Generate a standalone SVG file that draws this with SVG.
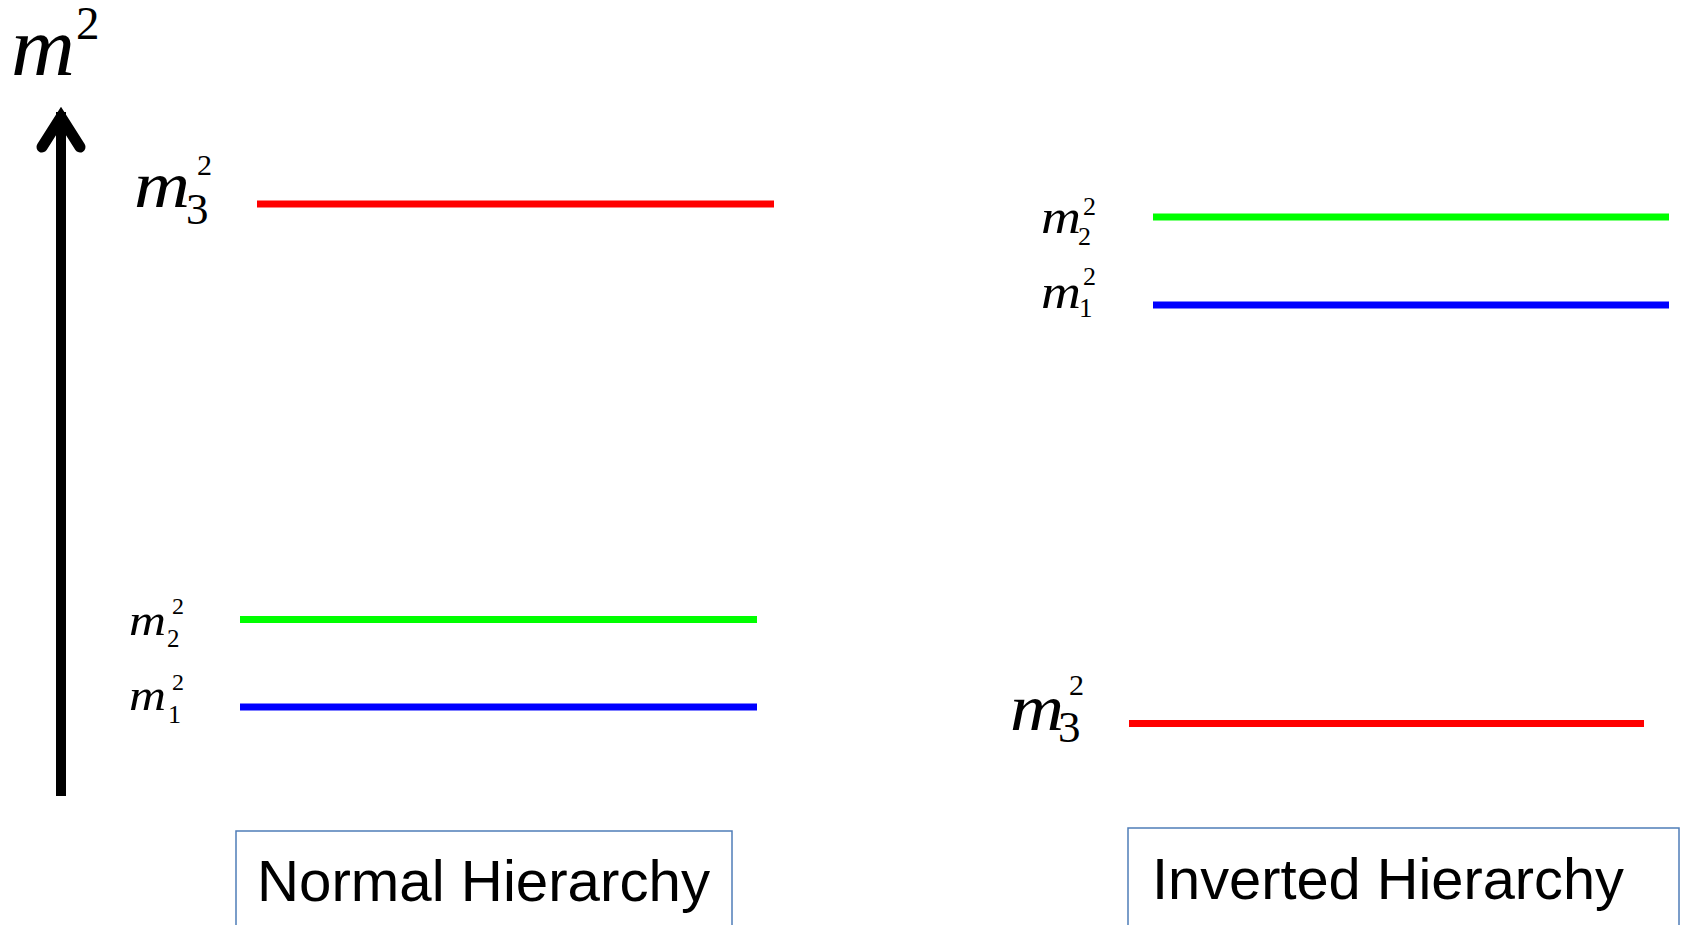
<svg xmlns="http://www.w3.org/2000/svg" width="1681" height="925" viewBox="0 0 1681 925">
<style>
.bg{fill:#ffffff}
.lvl{stroke-width:7;fill:none}
.red{stroke:#ff0000}
.green{stroke:#00ff00}
.blue{stroke:#0000ff}
.m{font-family:"Liberation Serif","Times New Roman",serif;font-style:italic;fill:#000}
.d{font-family:"Liberation Serif","Times New Roman",serif;fill:#000}
.box{fill:#ffffff;stroke:#4f7db8;stroke-width:1.5}
.cap{font-family:"Liberation Sans",Arial,sans-serif;font-size:58px;fill:#000}
</style>
<rect class="bg" x="0" y="0" width="1681" height="925"/>
<g id="connectors">
  <g id="axis">
    <line x1="61" y1="796" x2="61" y2="112" stroke="#000" stroke-width="10"/>
    <polyline points="42,147 61,117 80,147" fill="none" stroke="#000" stroke-width="11" stroke-linecap="round" stroke-linejoin="miter"/>
  </g>
</g>
<g id="axis-label">
  <text class="m" x="11" y="75" font-size="84" textLength="64" lengthAdjust="spacingAndGlyphs">m</text>
  <text class="d" x="76" y="39" font-size="47">2</text>
</g>
<g id="normal-m3">
  <line class="lvl red" x1="257" y1="204" x2="774" y2="204"/>
  <text class="m" x="134" y="207" font-size="66" textLength="56" lengthAdjust="spacingAndGlyphs">m</text>
  <text class="d" x="197" y="175" font-size="30">2</text>
  <text class="d" x="186" y="224" font-size="45">3</text>
</g>
<g id="normal-m2">
  <line class="lvl green" x1="240" y1="619.5" x2="757" y2="619.5"/>
  <text class="m" x="129" y="635" font-size="45" textLength="37" lengthAdjust="spacingAndGlyphs">m</text>
  <text class="d" x="172" y="614" font-size="24">2</text>
  <text class="d" x="167" y="647" font-size="25">2</text>
</g>
<g id="normal-m1">
  <line class="lvl blue" x1="240" y1="707" x2="757" y2="707"/>
  <text class="m" x="129" y="710" font-size="45" textLength="37" lengthAdjust="spacingAndGlyphs">m</text>
  <text class="d" x="172" y="690" font-size="24">2</text>
  <text class="d" x="168" y="723" font-size="26">1</text>
</g>
<g id="inverted-m2">
  <line class="lvl green" x1="1153" y1="217" x2="1669" y2="217"/>
  <text class="m" x="1041" y="233" font-size="48" textLength="40" lengthAdjust="spacingAndGlyphs">m</text>
  <text class="d" x="1083" y="215" font-size="26">2</text>
  <text class="d" x="1078" y="245" font-size="26">2</text>
</g>
<g id="inverted-m1">
  <line class="lvl blue" x1="1153" y1="305" x2="1669" y2="305"/>
  <text class="m" x="1041" y="308" font-size="48" textLength="40" lengthAdjust="spacingAndGlyphs">m</text>
  <text class="d" x="1083" y="285" font-size="26">2</text>
  <text class="d" x="1079" y="317" font-size="27">1</text>
</g>
<g id="inverted-m3">
  <line class="lvl red" x1="1129" y1="723.5" x2="1644" y2="723.5"/>
  <text class="m" x="1010" y="730" font-size="66" textLength="54" lengthAdjust="spacingAndGlyphs">m</text>
  <text class="d" x="1069" y="695" font-size="30">2</text>
  <text class="d" x="1058" y="742" font-size="45">3</text>
</g>
<g id="normal-box">
  <rect class="box" x="236" y="831" width="496" height="110"/>
  <text class="cap" x="257" y="901" textLength="453" lengthAdjust="spacingAndGlyphs">Normal Hierarchy</text>
</g>
<g id="inverted-box">
  <rect class="box" x="1128" y="828" width="551" height="110"/>
  <text class="cap" x="1152" y="899" textLength="472" lengthAdjust="spacingAndGlyphs">Inverted Hierarchy</text>
</g>
</svg>
